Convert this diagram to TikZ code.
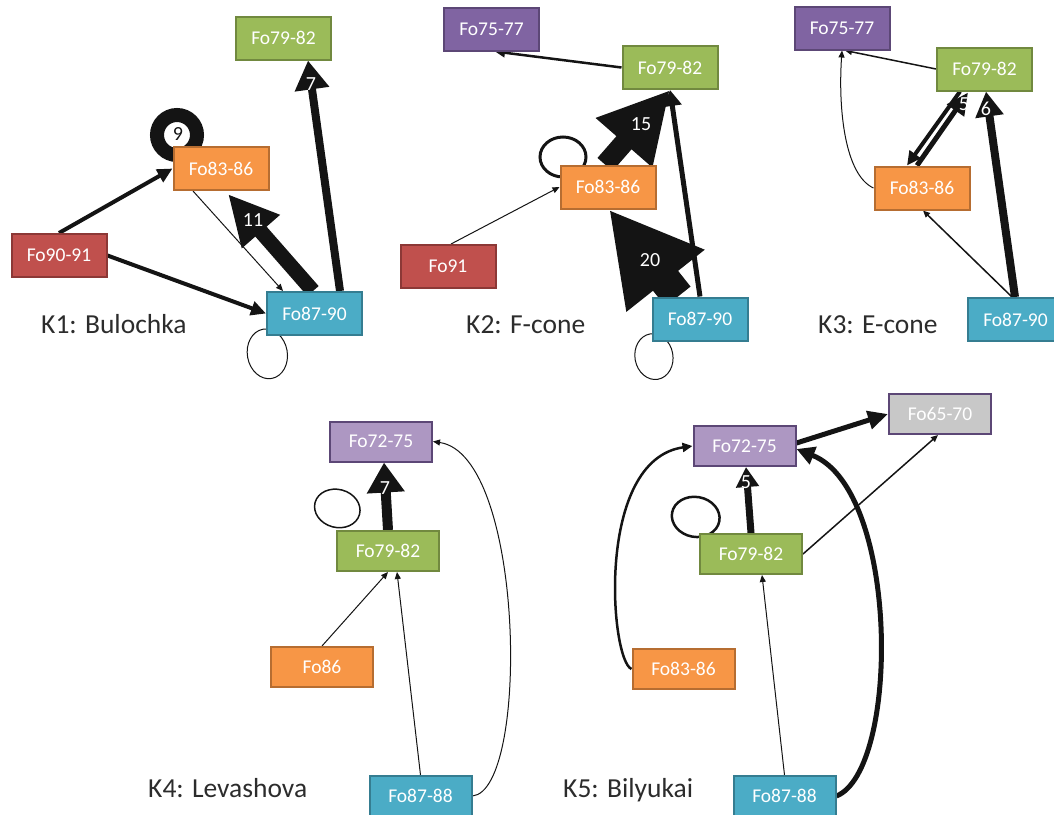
\documentclass[tikz,border=0pt]{standalone}
\usepackage{fontspec}
\setmainfont{Carlito}
\usetikzlibrary{arrows.meta,calc,backgrounds}
\definecolor{cRed}{HTML}{C0504D}\definecolor{bRed}{HTML}{8C3836}
\definecolor{cGreen}{HTML}{9BBB59}\definecolor{bGreen}{HTML}{71893F}
\definecolor{cOrange}{HTML}{F79646}\definecolor{bOrange}{HTML}{B66D31}
\definecolor{cTeal}{HTML}{4BACC6}\definecolor{bTeal}{HTML}{357D91}
\definecolor{cPurple}{HTML}{8064A2}\definecolor{bPurple}{HTML}{5C4776}
\definecolor{cLilac}{HTML}{AD97C2}
\definecolor{cGray}{HTML}{C8C8C8}
\definecolor{ink}{HTML}{141414}
\tikzset{
  box/.style={rectangle, line width=2pt, text=white, inner sep=0pt,
    font=\fontsize{19.5}{19.5}\selectfont, minimum width=95pt, minimum height=43pt},
  lowbox/.style={minimum width=102pt, minimum height=40pt},
  rbox/.style={box, fill=cRed, draw=bRed},
  gbox/.style={box, fill=cGreen, draw=bGreen},
  obox/.style={box, fill=cOrange, draw=bOrange},
  tbox/.style={box, fill=cTeal, draw=bTeal},
  pbox/.style={box, fill=cPurple, draw=bPurple},
  lbox/.style={box, fill=cLilac, draw=bPurple},
  sbox/.style={box, fill=cGray, draw=bPurple},
  title/.style={font=\fontsize{27.5}{27.5}\selectfont, text=ink!90, inner sep=0pt, anchor=base west},
  wlab/.style={font=\fontsize{20}{20}\selectfont, text=white, inner sep=0pt},
  con/.style={draw=ink},
  tipS/.style={-{Triangle[length=7pt,width=6pt]}},
  tipM/.style={-{Triangle[length=10pt,width=9pt]}},
  tipL/.style={-{Triangle[length=15pt,width=14pt]}},
}
\begin{document}
\begin{tikzpicture}[x=1pt,y=-1pt]
\useasboundingbox (0,0) rectangle (1054,814);
% ---------------- K1
\node[gbox] (k1a) at (283.5,38) {Fo79-82};
\node[obox] (k1b) at (221,168.5) {Fo83-86};
\node[rbox] (k1c) at (59,255.5) {Fo90-91};
\node[tbox] (k1d) at (314.5,313.5) {Fo87-90};
\node[title] (k1t) at (41,333) {K1: Bulochka};
% ---------------- K2
\node[pbox] (k2a) at (491.5,29) {Fo75-77};
\node[gbox] (k2b) at (670,67.5) {Fo79-82};
\node[obox] (k2c) at (608,187) {Fo83-86};
\node[rbox] (k2d) at (448,266.5) {Fo91};
\node[tbox] (k2e) at (700,319) {Fo87-90};
\node[title] (k2t) at (466,333) {K2: F-cone};
% ---------------- K3
\node[pbox] (k3a) at (842,28) {Fo75-77};
\node[gbox] (k3b) at (984.5,69) {Fo79-82};
\node[obox] (k3c) at (922,188) {Fo83-86};
\node[tbox] (k3d) at (1015.5,319.5) {Fo87-90};
\node[title] (k3t) at (818,333) {K3: E-cone};
% ---------------- K4
\node[lbox,lowbox] (k4a) at (381,441.5) {Fo72-75};
\node[gbox,lowbox] (k4b) at (388,551) {Fo79-82};
\node[obox,lowbox] (k4c) at (322,667) {Fo86};
\node[tbox,lowbox] (k4d) at (420.5,796) {Fo87-88};
\node[title] (k4t) at (148,797) {K4: Levashova};
% ---------------- K5
\node[lbox,lowbox] (k5a) at (744.5,446) {Fo72-75};
\node[sbox,lowbox] (k5f) at (940,414) {Fo65-70};
\node[gbox,lowbox] (k5b) at (751,554) {Fo79-82};
\node[obox,lowbox] (k5c) at (683.5,669) {Fo83-86};
\node[tbox,lowbox] (k5d) at (784.5,796) {Fo87-88};
\node[title] (k5t) at (563,797) {K5: Bilyukai};

\begin{scope}[on background layer]
% K1
\draw[con, line width=14pt] ($(k1b)+(-44,-33.5)$) circle[radius=20pt];
\draw[con, line width=1pt, rotate around={10:($(k1d)+(-53.5,31.5)$)}] ($(k1d)+(-53.5,31.5)$) ellipse[x radius=20pt, y radius=25pt];
\draw[con, line width=4pt, tipL] (k1c.north) -- (k1b.west);
\draw[con, line width=4pt, tipL] (k1c.east) -- (k1d.west);
\draw[con, line width=1pt, tipS] ($(k1b.south)+(-28,0)$) -- ($(k1d.north)+(-31.5,0)$);
\draw[con, line width=15pt, -{Triangle[length=50pt,width=47pt]}] ($(k1d.north)+(-1.5,0)$) -- ($(k1b.south)+(7,3)$);
\draw[con, line width=8pt, -{Triangle[length=29pt,width=33pt]}] ($(k1d.north)+(25.5,0)$) -- ($(k1a.south)+(24.5,0)$);
% K2
\draw[con, line width=3pt] ($(k2c)+(-45,-30)$) ellipse[x radius=23pt, y radius=20pt];
\draw[con, line width=1pt, rotate around={10:($(k2e)+(-52,29)$)}] ($(k2e)+(-52,29)$) ellipse[x radius=19pt, y radius=23pt];
\draw[con, line width=2.5pt, tipM] (k2b.west) -- ($(k2a.south)+(3.5,0)$);
\draw[con, line width=1pt, tipS] ($(k2d.north)+(3,0)$) -- (k2c.west);
\draw[con, line width=20pt, -{Triangle[length=70pt,width=70pt]}] ($(k2c.north)+(-3,0)$) -- (k2b.south);
\draw[con, line width=32pt, -{Triangle[length=91pt,width=93pt]}] ($(k2e.north)+(-22,0)$) -- ($(k2c.south)+(1,0)$);
\draw[con, line width=5pt, -{Triangle[length=16pt,width=18pt]}] (k2e.north) -- (k2b.south);
% K3
\draw[con, line width=1.5pt, tipS] (k3b.west) -- ($(k3a.south)+(3,0)$);
\draw[con, line width=1pt, tipS] (k3c.west) .. controls (845,175) and (838,110) .. (k3a.south);
\draw[con, line width=4pt, -{Triangle[length=14pt,width=13pt]}] ($(k3b.south)+(-24.5,0)$) -- ($(k3c.north)+(-15,0)$);
\draw[con, line width=5pt, -{Triangle[length=22pt,width=20pt]}] ($(k3c.north)+(-5,0)$) -- ($(k3b.south)+(-16.5,1)$);
\draw[con, line width=8pt, -{Triangle[length=25pt,width=27pt]}] ($(k3d.north)+(-0.5,0)$) -- ($(k3b.south)+(1.5,0)$);
\draw[con, line width=1.5pt, tipS] ($(k3d.north)+(-3.5,0)$) -- ($(k3c.south)+(1,0)$);
% K4
\draw[con, line width=1.5pt, rotate around={-15:($(k4b)+(-60,-28)$)}] ($(k4b)+(-60,-28)$) ellipse[x radius=23pt, y radius=19pt];
\draw[con, line width=10pt, -{Triangle[length=30pt,width=36pt]}] (k4b.north) -- ($(k4a.south)+(3,0)$);
\draw[con, line width=1pt, tipS] (k4c.north) -- (k4b.south);
\draw[con, line width=1pt, tipS] (k4d.north) -- ($(k4b.south)+(9,0)$);
\draw[con, line width=1pt, tipS] (k4d.east) .. controls (530,790) and (525,455) .. (k4a.east);
% K5
\draw[con, line width=2.5pt, rotate around={-10:($(k5b)+(-61,-27)$)}] ($(k5b)+(-61,-27)$) ellipse[x radius=24pt, y radius=20pt];
\draw[con, line width=5pt, -{Triangle[length=20pt,width=18pt]}] ($(k5a.east)+(0,-3)$) -- (k5f.west);
\draw[con, line width=5pt, -{Triangle[length=18pt,width=18pt]}] (k5d.east) .. controls (900,770) and (900,490) .. ($(k5a.east)+(0,3)$);
\draw[con, line width=7pt, -{Triangle[length=20pt,width=22pt]}] (k5b.north) -- ($(k5a.south)+(1.5,0)$);
\draw[con, line width=1.5pt, tipS] (k5b.east) -- ($(k5f.south)+(-2,0)$);
\draw[con, line width=1pt, tipS] (k5d.north) -- ($(k5b.south)+(11,0)$);
\draw[con, line width=2.5pt, tipM] (k5c.west) .. controls (610,660) and (595,460) .. (k5a.west);
\end{scope}
% weight labels
\node[wlab, text=ink] (w9) at (178,134) {9};
\node[wlab] (w11) at (253,220) {11};
\node[wlab] (w7a) at (311,84) {7};
\node[wlab] (w15) at (641,124) {15};
\node[wlab] (w20) at (650,260) {20};
\node[wlab] (w5a) at (964,104) {5};
\node[wlab] (w6) at (986,109) {6};
\node[wlab] (w7b) at (385,488) {7};
\node[wlab] (w5b) at (746,482) {5};
\end{tikzpicture}
\end{document}
